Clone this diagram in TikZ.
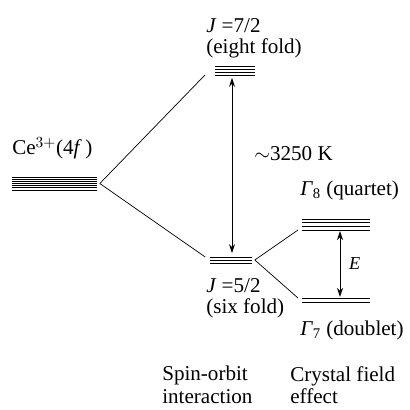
\documentclass[tikz,border=0pt]{standalone}
\usepackage{fontspec}
\setmainfont{Liberation Serif}
\usetikzlibrary{positioning, arrows.meta, calc}

\begin{document}
\begin{tikzpicture}[
    >={Stealth[length=2.2mm, width=1.5mm]},   % 細めの矢じり
    font=\fontsize{15}{16}\selectfont,
    level/.style={inner sep=0pt, outer sep=0pt},
    level line/.style={line width=0.55pt},
    link/.style={line width=0.5pt},
    label text/.style={inner sep=0pt, anchor=west},
    caption/.style={inner sep=0pt, anchor=north west, align=left}
]
    \useasboundingbox (0,0) rectangle (10.25,10.25);

    % --- 準位の束 (名前/x/y/幅/高さ) ---
    \foreach \name/\x/\y/\w/\h in {ce/1.3625/5.6625/2.125/0.325,
                                    jsev/5.875/8.4875/1.0/0.225,
                                    jfiv/5.775/3.75/1.05/0.15,
                                    geig/8.4/4.6375/1.7/0.275,
                                    gsev/8.4/2.75/1.7/0.1}
        \node [level, minimum width=\w cm, minimum height=\h cm] (\name) at (\x,\y) {};

    % --- 束の中の線 (名前/本数) ---
    \foreach \name/\n in {ce/7, jsev/4, jfiv/3, geig/4, gsev/2}
        \foreach \k in {1,...,\n} {
            \pgfmathsetmacro\fr{(\k-1)/(\n-1)}
            \draw [level line] ($(\name.north west)!\fr!(\name.south west)$)
                            -- ($(\name.north east)!\fr!(\name.south east)$);
        }

    % --- ラベル ---
    \node [label text] (celab) at (0.3,6.55) {Ce$^{3+}$(4\textit{f}\,)};
    \node [label text] (jsevlab) at (5.15,9.6) {\textit{J} =7/2};
    \node [label text] (jsevdeg) at (5.15,9.05) {(eight fold)};
    \node [label text] (jfivlab) at (5.15,3.1) {\textit{J} =5/2};
    \node [label text] (jfivdeg) at (5.15,2.55) {(six fold)};
    \node [label text] (geiglab) at (7.5,5.5) {\textit{Γ}\textsubscript{8} (quartet)};
    \node [label text] (gsevlab) at (7.5,2.0) {\textit{Γ}\textsubscript{7} (doublet)};

    % --- 分裂の線 ---
    \draw [link] ([xshift=2pt]ce.east) -- ([xshift=-0.25cm]jsev.south west);
    \draw [link] ([xshift=2pt]ce.east) -- ([xshift=-0.12cm]jfiv.north west);
    \draw [link] ([xshift=2pt]jfiv.east) -- ([xshift=-0.1cm]geig.south west);
    \draw [link] ([xshift=2pt]jfiv.east) -- ([xshift=-0.1cm]gsev.north west);

    % --- エネルギー差の矢印 ---
    \draw [link, <->] ([xshift=-0.075cm, yshift=-0.075cm]jsev.south)
        -- ([xshift=-0.075cm, yshift=0.1cm]jsev.south |- jfiv.north)
        node [midway, label text, xshift=0.55cm, yshift=0.3cm] (so) {$\sim$3250 K};
    \draw [link, <->] ([xshift=0.1cm, yshift=-0.03cm]geig.south)
        -- ([xshift=0.1cm, yshift=0.03cm]geig.south |- gsev.north)
        node [midway, label text, xshift=0.22cm, font=\fontsize{13}{14}\selectfont] (elab) {\textit{E}};

    % --- 下の説明 ---
    \node [caption] (socap) at (4.05,1.1) {Spin-orbit\\interaction};
    \node [caption] (cfcap) at (7.25,1.1) {Crystal field\\effect};

\end{tikzpicture}
\end{document}
